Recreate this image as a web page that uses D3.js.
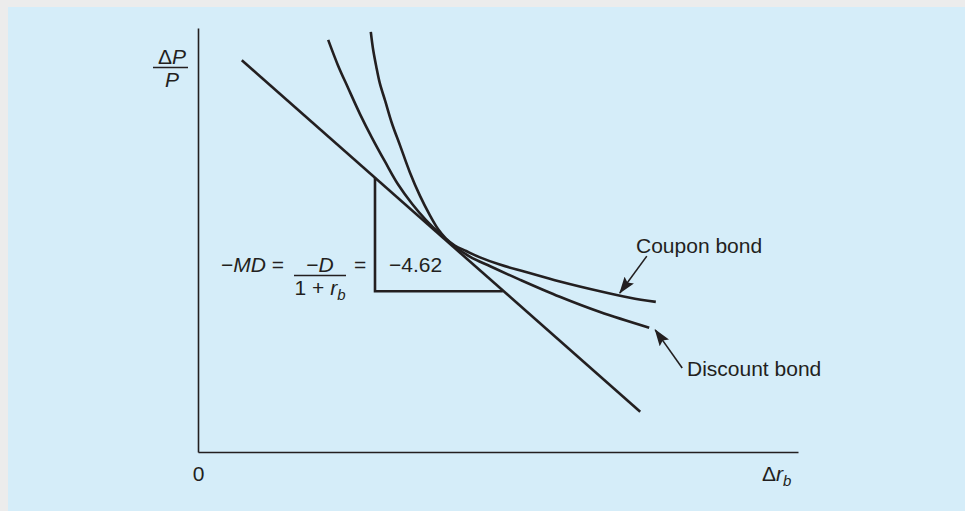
<!DOCTYPE html>
<html>
<head>
<meta charset="utf-8">
<script src="https://cdn.jsdelivr.net/npm/d3@7"></script>
<style>
  html, body { margin: 0; padding: 0; background: #ececec; }
  svg { display: block; }
  text { font-family: "Liberation Sans", Arial, Helvetica, sans-serif; fill: #231f20; }
</style>
</head>
<body>
<script>
// ---------- data (abstract units: x 0..100, y 0..100) ----------
const couponX   = [28.8, 29.2, 29.7, 30.3, 31.2, 32.3, 33.7, 35.3, 37.0, 38.7, 40.0, 41.3, 42.8, 44.7, 47.0, 50.3, 54.5, 60.3, 67.0, 72.0, 76.3];
const couponY   = [99.1, 94.8, 91.0, 87.0, 82.8, 77.6, 72.2, 66.0, 60.4, 55.7, 52.6, 50.4, 48.7, 47.4, 45.9, 44.2, 42.5, 40.2, 37.9, 36.4, 35.4];
const discountX = [21.7, 23.3, 25.0, 27.0, 29.0, 31.2, 33.3, 35.7, 38.0, 40.3, 42.7, 45.3, 48.7, 53.7, 60.3, 67.0, 75.2];
const discountY = [97.2, 91.3, 85.9, 79.7, 74.1, 68.4, 63.2, 58.5, 54.7, 51.5, 48.6, 46.1, 43.8, 40.6, 36.6, 33.0, 29.3];
const tangentX  = [7.3, 73.7];
const tangentY  = [92.4, 9.5];
// slope triangle: vertical leg at x = triX[0], horizontal leg at y = triY[1]
const triX      = [29.5, 29.5, 50.8];
const triY      = [64.7, 37.9, 37.9];
const xTickLabels = ["0"];
const slopeValue = "\u22124.62";
const seriesNames = ["Coupon bond", "Discount bond"];

// ---------- layout ----------
const W = 965, H = 511;
const svg = d3.select("body").append("svg").attr("width", W).attr("height", H);
svg.append("rect").attr("x", 8).attr("y", 7).attr("width", W - 8).attr("height", H - 7).attr("fill", "#d5edf9");

const x = d3.scaleLinear().domain([0, 100]).range([198, 798]);
const y = d3.scaleLinear().domain([0, 100]).range([452, 28]);
const ink = "#231f20";

// axes
const xAxis = svg.append("g").attr("transform", `translate(0,${y(0)})`)
  .call(d3.axisBottom(x).tickValues([0]).tickFormat((d, i) => xTickLabels[i]).tickSize(0).tickSizeOuter(0).tickPadding(14));
const yAxis = svg.append("g").attr("transform", `translate(${x(0)},0)`)
  .call(d3.axisLeft(y).tickValues([]).tickSizeOuter(0));
[xAxis, yAxis].forEach(g => {
  g.select(".domain").attr("stroke", ink).attr("stroke-width", 1.6);
  g.selectAll("text").attr("font-size", 21).attr("fill", ink)
   .attr("font-family", '"Liberation Sans", Arial, sans-serif');
});

// axis titles
const yt = svg.append("g");
yt.append("text").attr("x", 172).attr("y", 64).attr("text-anchor", "middle").attr("font-size", 21)
  .html('\u0394<tspan font-style="italic">P</tspan>');
yt.append("line").attr("x1", 153).attr("x2", 188).attr("y1", 67.5).attr("y2", 67.5).attr("stroke", ink).attr("stroke-width", 1.5);
yt.append("text").attr("x", 172).attr("y", 87).attr("text-anchor", "middle").attr("font-size", 21)
  .attr("font-style", "italic").text("P");

svg.append("text").attr("x", 762).attr("y", 481).attr("font-size", 21)
  .html('\u0394<tspan font-style="italic">r</tspan><tspan font-style="italic" font-size="15" dy="5">b</tspan>');

// lines
const line = d3.line().x(d => x(d[0])).y(d => y(d[1]));
const smooth = d3.line().x(d => x(d[0])).y(d => y(d[1])).curve(d3.curveCatmullRom.alpha(0.5));

svg.append("path").datum(d3.zip(tangentX, tangentY)).attr("d", line)
  .attr("fill", "none").attr("stroke", ink).attr("stroke-width", 2.6);
svg.append("path").datum(d3.zip(triX, triY)).attr("d", line)
  .attr("fill", "none").attr("stroke", ink).attr("stroke-width", 2.6).attr("stroke-linejoin", "miter");
svg.append("path").datum(d3.zip(couponX, couponY)).attr("d", smooth)
  .attr("fill", "none").attr("stroke", ink).attr("stroke-width", 2.6);
svg.append("path").datum(d3.zip(discountX, discountY)).attr("d", smooth)
  .attr("fill", "none").attr("stroke", ink).attr("stroke-width", 2.6);

// arrows
const defs = svg.append("defs");
defs.append("marker").attr("id", "ah").attr("viewBox", "0 -6 17 12").attr("refX", 16).attr("refY", 0)
  .attr("markerWidth", 17).attr("markerHeight", 12).attr("markerUnits", "userSpaceOnUse").attr("orient", "auto")
  .append("path").attr("d", "M0,-5.8L17,0L0,5.8L3,0Z").attr("fill", ink);

const arrows = [
  {from: [74.8, 46.2], to: [70.3, 37.5]},
  {from: [80.7, 19.8], to: [76.2, 28.8]}
];
svg.selectAll("line.arrow").data(arrows).join("line").attr("class", "arrow")
  .attr("x1", d => x(d.from[0])).attr("y1", d => y(d.from[1]))
  .attr("x2", d => x(d.to[0])).attr("y2", d => y(d.to[1]))
  .attr("stroke", ink).attr("stroke-width", 1.6).attr("marker-end", "url(#ah)");

// series labels
svg.append("text").attr("x", x(73.0)).attr("y", y(46.9)).attr("font-size", 21).text(seriesNames[0]);
svg.append("text").attr("x", x(81.5)).attr("y", y(17.9)).attr("font-size", 21).text(seriesNames[1]);

// modified duration annotation
const ann = svg.append("g").attr("font-size", 21);
ann.append("text").attr("x", 221).attr("y", 272).attr("font-size", 21)
  .html('\u2212<tspan font-style="italic">MD</tspan> =');
ann.append("text").attr("x", 320).attr("y", 272).attr("text-anchor", "middle").attr("font-size", 21)
  .html('\u2212<tspan font-style="italic">D</tspan>');
ann.append("line").attr("x1", 294).attr("x2", 346).attr("y1", 275.5).attr("y2", 275.5).attr("stroke", ink).attr("stroke-width", 1.5);
ann.append("text").attr("x", 320).attr("y", 295).attr("text-anchor", "middle").attr("font-size", 21)
  .html('1 + <tspan font-style="italic">r</tspan><tspan font-style="italic" font-size="15" dy="5">b</tspan>');
ann.append("text").attr("x", 354).attr("y", 272).attr("font-size", 21).text("=");
ann.append("text").attr("x", 389).attr("y", 272).attr("font-size", 21).text(slopeValue);
</script>
</body>
</html>
